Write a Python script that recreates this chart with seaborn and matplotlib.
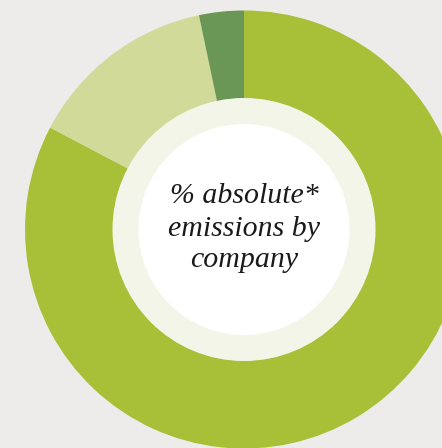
import matplotlib
matplotlib.use("Agg")
import matplotlib.pyplot as plt
import seaborn as sns
from matplotlib.patches import Circle

sns.set_theme(style="white")

companies = ["Company A", "Company B", "Company C"]
shares = [82.7, 14.0, 3.3]
colors = ["#a8bf38", "#d1da98", "#6a9756"]
center_lines = ["% absolute*", "emissions by", "company"]

W, H = 442, 448
fig = plt.figure(figsize=(W / 100, H / 100), dpi=100)
fig.patch.set_facecolor("#edecea")
ax = fig.add_axes([0, 0, 1, 1])
ax.set_facecolor("#edecea")
ax.set_xlim(0, W)
ax.set_ylim(0, H)
ax.set_aspect("equal")
ax.axis("off")

cx, cy = 244, H - 229.5
R = 219
ax.pie(shares, colors=colors, startangle=90, counterclock=False,
       radius=R, center=(cx, cy),
       wedgeprops=dict(width=R - 131, linewidth=0), frame=True)
ax.set_xlim(0, W)
ax.set_ylim(0, H)
ax.axis("off")
ax.add_patch(Circle((cx, cy), 131.5, facecolor="#f3f5e9", edgecolor="none", zorder=3))
ax.add_patch(Circle((cx, cy), 105.5, facecolor="#ffffff", edgecolor="none", zorder=4))

baselines = [203, 236, 267]
for line, by in zip(center_lines, baselines):
    ax.text(cx, H - by, line, ha="center", va="baseline", fontsize=21.5,
            family="Liberation Serif", style="italic", color="#1a1a1a", zorder=5)

fig.savefig("out.png", dpi=100, facecolor=fig.get_facecolor())
